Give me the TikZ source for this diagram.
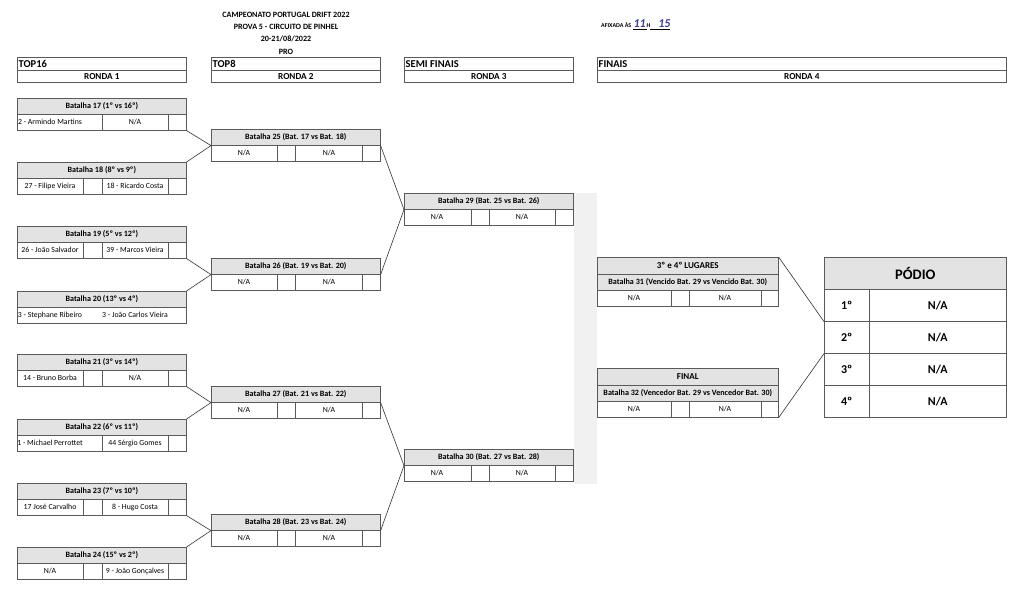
\documentclass[tikz,border=0pt]{standalone}
\usepackage{fontspec}
\setmainfont{Carlito}
\usepackage{tikz}
\usetikzlibrary{positioning, calc}
\usepackage{xcolor}
\definecolor{boxgray}{HTML}{5A5A5A}
\definecolor{hdrfill}{HTML}{E3E3E3}
\definecolor{bandgray}{HTML}{F1F1F1}
\definecolor{penblue}{HTML}{3B3DA8}
\newcommand{\NA}{N/A}
\newcommand{\batfont}{\fontsize{8.1}{9}\selectfont\bfseries}
\newcommand{\namefont}{\fontsize{7.8}{9}\selectfont}
\newcommand{\podfont}{\fontsize{12}{14}\selectfont\bfseries}

\begin{document}
\begin{tikzpicture}[
  x=1pt, y=-1pt,
  cell/.style={draw=boxgray, line width=0.6pt, rectangle, inner sep=0pt,
    anchor=north west, minimum height=16pt},
  bathdr/.style={cell, fill=hdrfill, minimum width=169pt, font=\batfont},
  batrow/.style={cell, minimum width=169pt},
  pilot/.style={font=\namefont, inner sep=0pt},
  divider/.style={boxgray, line width=0.6pt},
  link/.style={draw=black!80, line width=0.6pt}
]
  \fill[white] (0,0) rectangle (1024,591);
  \useasboundingbox (0,0) rectangle (1024,591);

  % --- Title ---
  \node[font=\batfont] (tit1) at (286,15) {CAMPEONATO PORTUGAL DRIFT 2022};
  \node[font=\batfont] (tit2) at (286,27) {PROVA 5 - CIRCUITO DE PINHEL};
  \node[font=\batfont] (tit3) at (286,39) {20-21/08/2022};
  \node[font=\batfont] (tit4) at (286,52) {PRO};

  \node[font=\fontsize{6}{7}\selectfont\bfseries, anchor=west, inner sep=0pt] (afix) at (601,25) {AFIXADA ÀS};
  \node[font=\fontsize{6}{7}\selectfont\bfseries, anchor=base west, inner sep=0pt]
    (hora) at ([xshift=1pt]afix.base east)
    {\underline{\makebox[14pt]{\textcolor{penblue}{\fontsize{12}{12}\selectfont\itshape 11}}}H\underline{\makebox[20pt]{\hfill\textcolor{penblue}{\fontsize{12}{12}\selectfont\itshape 15}}}};

  % --- Round headers ---
  \foreach \x/\w/\stage/\ronda [count=\i] in {17/169/TOP16/RONDA 1, 211/169/TOP8/RONDA 2,
      404/169/SEMI FINAIS/RONDA 3, 597/409/FINAIS/RONDA 4} {
    \node[cell, minimum width=\w pt, minimum height=13pt] (top\i) at (\x,57) {};
    \node[font=\fontsize{10.5}{12}\selectfont\bfseries, anchor=west, inner sep=0pt]
      (stage\i) at ([xshift=1.5pt]top\i.west) {\stage};
    \node[cell, minimum width=\w pt, minimum height=12pt, font=\fontsize{9.2}{10}\selectfont\bfseries]
      (ronda\i) at (\x,70) {\ronda};
  }

  % scan shadow between semi finals and finals
  \fill[bandgray] (574,193) rectangle (597,484);

  % --- Ronda 1 ---
  \foreach \bn/\y/\vs/\pa/\pb/\dv in {
      17/98/{1º vs 16º}/{2 - Armindo Martins}/\NA/{85,151},
      18/162/{8º vs 9º}/{27 - Filipe Vieira}/{18 - Ricardo Costa}/{66,85,151},
      19/226/{5º vs 12º}/{26 - João Salvador}/{39 - Marcos Vieira}/{66,85,151},
      20/291/{13º vs 4º}/{3 - Stephane Ribeiro}/{3 - João Carlos Vieira}/{0},
      21/354/{3º vs 14º}/{14 - Bruno Borba}/\NA/{66,85,151},
      22/419/{6º vs 11º}/{1 - Michael Perrottet}/{44 Sérgio Gomes}/{85,151},
      23/483/{7º vs 10º}/{17 José Carvalho}/{8 - Hugo Costa}/{66,85,151},
      24/547/{15º vs 2º}/\NA/{9 - João Gonçalves}/{66,85,151}} {
    \node[bathdr] (b\bn) at (17,\y) {Batalha \bn\ (\vs)};
    \node[batrow] (r\bn) at (17,\y+16) {};
    \foreach \d in \dv
      \draw[divider] ([xshift=\d pt]r\bn.north west) -- ([xshift=\d pt]r\bn.south west);
    \node[pilot] (r\bn a) at ([xshift=33pt]r\bn.west) {\pa};
    \node[pilot] (r\bn b) at ([xshift=118pt]r\bn.west) {\pb};
  }

  % --- Ronda 2 ---
  \foreach \bn/\y/\a/\b in {25/129/17/18, 26/258/19/20, 27/386/21/22, 28/514/23/24} {
    \node[bathdr] (b\bn) at (211,\y) {Batalha \bn\ (Bat. \a\ vs Bat. \b)};
    \node[batrow] (r\bn) at (211,\y+16) {};
    \foreach \d in {66,84,151}
      \draw[divider] ([xshift=\d pt]r\bn.north west) -- ([xshift=\d pt]r\bn.south west);
    \node[pilot] (r\bn a) at ([xshift=33pt]r\bn.west) {\NA};
    \node[pilot] (r\bn b) at ([xshift=118pt]r\bn.west) {\NA};
    \draw[link] (r\a.south east) -- (b\bn.south west) -- (b\b.north east);
  }

  % --- Ronda 3 ---
  \foreach \bn/\y/\a/\b in {29/193/25/26, 30/449/27/28} {
    \node[bathdr] (b\bn) at (404,\y) {Batalha \bn\ (Bat. \a\ vs Bat. \b)};
    \node[batrow] (r\bn) at (404,\y+16) {};
    \foreach \d in {67,85,151}
      \draw[divider] ([xshift=\d pt]r\bn.north west) -- ([xshift=\d pt]r\bn.south west);
    \node[pilot] (r\bn a) at ([xshift=33pt]r\bn.west) {\NA};
    \node[pilot] (r\bn b) at ([xshift=118pt]r\bn.west) {\NA};
    \draw[link] (b\a.south east) -- (b\bn.south west) -- (b\b.south east);
  }

  % --- Ronda 4 ---
  \foreach \bn/\y/\stage/\vs in {31/257/{3º e 4º LUGARES}/Vencido, 32/368/FINAL/Vencedor} {
    \node[cell, fill=hdrfill, minimum width=181pt, minimum height=17pt,
      font=\fontsize{9}{10}\selectfont\bfseries] (t\bn) at (597,\y) {\stage};
    \node[cell, fill=hdrfill, minimum width=181pt, font=\batfont] (b\bn) at (597,\y+17)
      {Batalha \bn\ (\vs\ Bat. 29 vs \vs\ Bat. 30)};
    \node[cell, minimum width=181pt] (r\bn) at (597,\y+33) {};
    \foreach \d in {74,92,164}
      \draw[divider] ([xshift=\d pt]r\bn.north west) -- ([xshift=\d pt]r\bn.south west);
    \node[pilot] (r\bn a) at ([xshift=37pt]r\bn.west) {\NA};
    \node[pilot] (r\bn b) at ([xshift=128pt]r\bn.west) {\NA};
  }

  % --- Podio ---
  \node[cell, fill=hdrfill, minimum width=182pt, minimum height=32pt,
    font=\fontsize{14.5}{16}\selectfont\bfseries] (pod) at (824,257) {PÓDIO};
  \foreach \k/\y in {1/289, 2/321, 3/353, 4/385} {
    \node[cell, minimum width=45pt, minimum height=32pt, font=\podfont] (p\k) at (824,\y) {{\k}º};
    \node[cell, minimum width=137pt, minimum height=32pt, font=\podfont] (v\k) at (869,\y) {\NA};
  }
  \draw[link] (t31.north east) -- (p1.south west);
  \draw[link] (r32.south east) -- (p2.south west);
\end{tikzpicture}
\end{document}
